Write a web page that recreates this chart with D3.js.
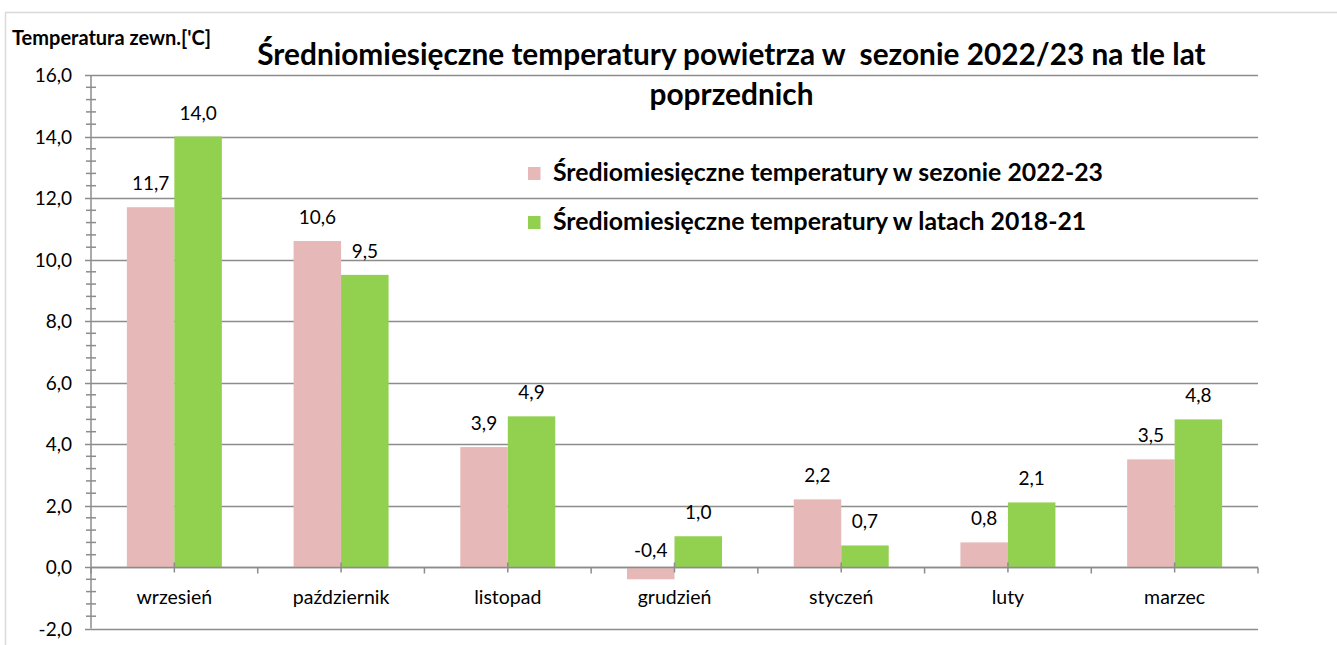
<!DOCTYPE html>
<html>
<head>
<meta charset="utf-8">
<script src="https://cdn.jsdelivr.net/npm/d3@7"></script>
<style>
  body { margin: 0; background: #fff; }
  svg { display: block; font-family: Lato, "Open Sans", sans-serif; }
</style>
</head>
<body>
<svg id="chart" width="1337" height="645"></svg>
<script>
const months = ['wrzesień', 'październik', 'listopad', 'grudzień', 'styczeń', 'luty', 'marzec'];
const season2223 = [11.7, 10.6, 3.9, -0.4, 2.2, 0.8, 3.5];
const years1821 = [14.0, 9.5, 4.9, 1.0, 0.7, 2.1, 4.8];
const seriesNames = ['Średiomiesięczne temperatury w sezonie 2022-23', 'Średiomiesięczne temperatury w latach 2018-21'];
const seriesColors = ['#e6b8b7', '#92d050'];
const yTicks = [-2, 0, 2, 4, 6, 8, 10, 12, 14, 16];

const svg = d3.select('svg#chart');
const fmt = v => d3.format('.1f')(v).replace('.', ',').replace('−', '-');

// outer chart frame (only top + left edges visible)
svg.append('path')
  .attr('fill', 'none')
  .attr('stroke', '#d9d9d9')
  .attr('stroke-width', 1.5)
  .attr('d', 'M5.5,645 L5.5,12.5 L1337,12.5');

const plotL = 91, plotR = 1258, plotT = 75, plotB = 628.5;

const x = d3.scaleBand().domain(months).range([plotL, plotR]).paddingInner(0).paddingOuter(0);
const y = d3.scaleLinear().domain([-2, 16]).range([plotB, plotT]);

// gridlines
svg.append('g')
  .selectAll('line')
  .data(yTicks)
  .enter()
  .append('line')
  .attr('x1', plotL).attr('x2', plotR)
  .attr('y1', d => Math.round(y(d)) + 0.5).attr('y2', d => Math.round(y(d)) + 0.5)
  .attr('stroke', '#8c8c8c')
  .attr('stroke-width', 1.5);

// bars
const inner = d3.scaleBand().domain([0, 1]).range([0, x.bandwidth()]).paddingInner(0).paddingOuter(0.755);
const rows = months.map((m, i) => [season2223[i], years1821[i]].map((v, s) => ({ m, v, s })));

svg.append('g')
  .selectAll('rect')
  .data(rows.flat())
  .enter()
  .append('rect')
  .attr('x', d => x(d.m) + inner(d.s))
  .attr('width', inner.bandwidth())
  .attr('y', d => y(Math.max(0, d.v)))
  .attr('height', d => Math.abs(y(d.v) - y(0)))
  .attr('fill', d => seriesColors[d.s]);

// data labels
svg.append('g')
  .selectAll('text')
  .data(rows.flat())
  .enter()
  .append('text')
  .attr('x', d => x(d.m) + inner(d.s) + inner.bandwidth() / 2)
  .attr('y', d => d.v >= 0 ? y(d.v) - 17 : y(0) - 10)
  .attr('text-anchor', 'middle')
  .attr('font-size', 19)
  .attr('fill', '#000')
  .text(d => fmt(d.v));

// y axis line + ticks
const yAxis = svg.append('g').attr('stroke', '#8c8c8c').attr('stroke-width', 1.5);
yAxis.append('line')
  .attr('x1', plotL).attr('x2', plotL).attr('y1', y(16)).attr('y2', y(-2));
yAxis.selectAll('line.major')
  .data(yTicks)
  .enter()
  .append('line')
  .attr('class', 'major')
  .attr('x1', plotL - 6).attr('x2', plotL)
  .attr('y1', d => Math.round(y(d)) + 0.5).attr('y2', d => Math.round(y(d)) + 0.5);
yAxis.selectAll('line.minor')
  .data(d3.range(-2, 16, 0.4).filter(v => Math.abs(v / 2 - Math.round(v / 2)) > 0.01))
  .enter()
  .append('line')
  .attr('class', 'minor')
  .attr('x1', plotL - 5).attr('x2', plotL + 5)
  .attr('y1', d => y(d)).attr('y2', d => y(d));

svg.append('g')
  .selectAll('text')
  .data(yTicks)
  .enter()
  .append('text')
  .attr('x', 72)
  .attr('y', d => y(d) + 7)
  .attr('text-anchor', 'end')
  .attr('font-size', 19)
  .text(d => fmt(d));

// x axis (at zero) + ticks
const xAxis = svg.append('g').attr('stroke', '#8c8c8c').attr('stroke-width', 1.5);
const y0 = Math.round(y(0)) + 0.5;
xAxis.append('line').attr('x1', plotL).attr('x2', plotR).attr('y1', y0).attr('y2', y0);
xAxis.selectAll('line.edge')
  .data(d3.range(months.length + 1))
  .enter()
  .append('line')
  .attr('class', 'edge')
  .attr('x1', i => plotL + i * x.step()).attr('x2', i => plotL + i * x.step())
  .attr('y1', y0).attr('y2', y0 + 6);
xAxis.selectAll('line.mid')
  .data(months)
  .enter()
  .append('line')
  .attr('class', 'mid')
  .attr('x1', d => x(d) + x.bandwidth() / 2).attr('x2', d => x(d) + x.bandwidth() / 2)
  .attr('y1', y0 - 5).attr('y2', y0 + 5);

svg.append('g')
  .selectAll('text')
  .data(months)
  .enter()
  .append('text')
  .attr('x', d => x(d) + x.bandwidth() / 2)
  .attr('y', y0 + 36)
  .attr('text-anchor', 'middle')
  .attr('font-size', 19.5)
  .text(d => d);

// titles
svg.append('text')
  .attr('x', 12).attr('y', 45)
  .attr('font-size', 20).attr('font-weight', 'bold')
  .text("Temperatura zewn.['C]");

const title = svg.append('text')
  .attr('text-anchor', 'middle')
  .attr('font-size', 29.8).attr('font-weight', 'bold')
  .style('white-space', 'pre');
title.append('tspan').attr('x', 731.5).attr('y', 65).text('Średniomiesięczne temperatury powietrza w  sezonie 2022/23 na tle lat');
title.append('tspan').attr('x', 731.5).attr('y', 105).text('poprzednich');

// legend
const legend = svg.append('g')
  .selectAll('g')
  .data(seriesNames)
  .enter()
  .append('g')
  .attr('transform', (d, i) => `translate(528,${167 + i * 49})`);
legend.append('rect')
  .attr('width', 12.5).attr('height', 13)
  .attr('fill', (d, i) => seriesColors[i]);
legend.append('text')
  .attr('x', 25).attr('y', 14)
  .attr('font-size', 24.8).attr('font-weight', 'bold')
  .text(d => d);
</script>
</body>
</html>
